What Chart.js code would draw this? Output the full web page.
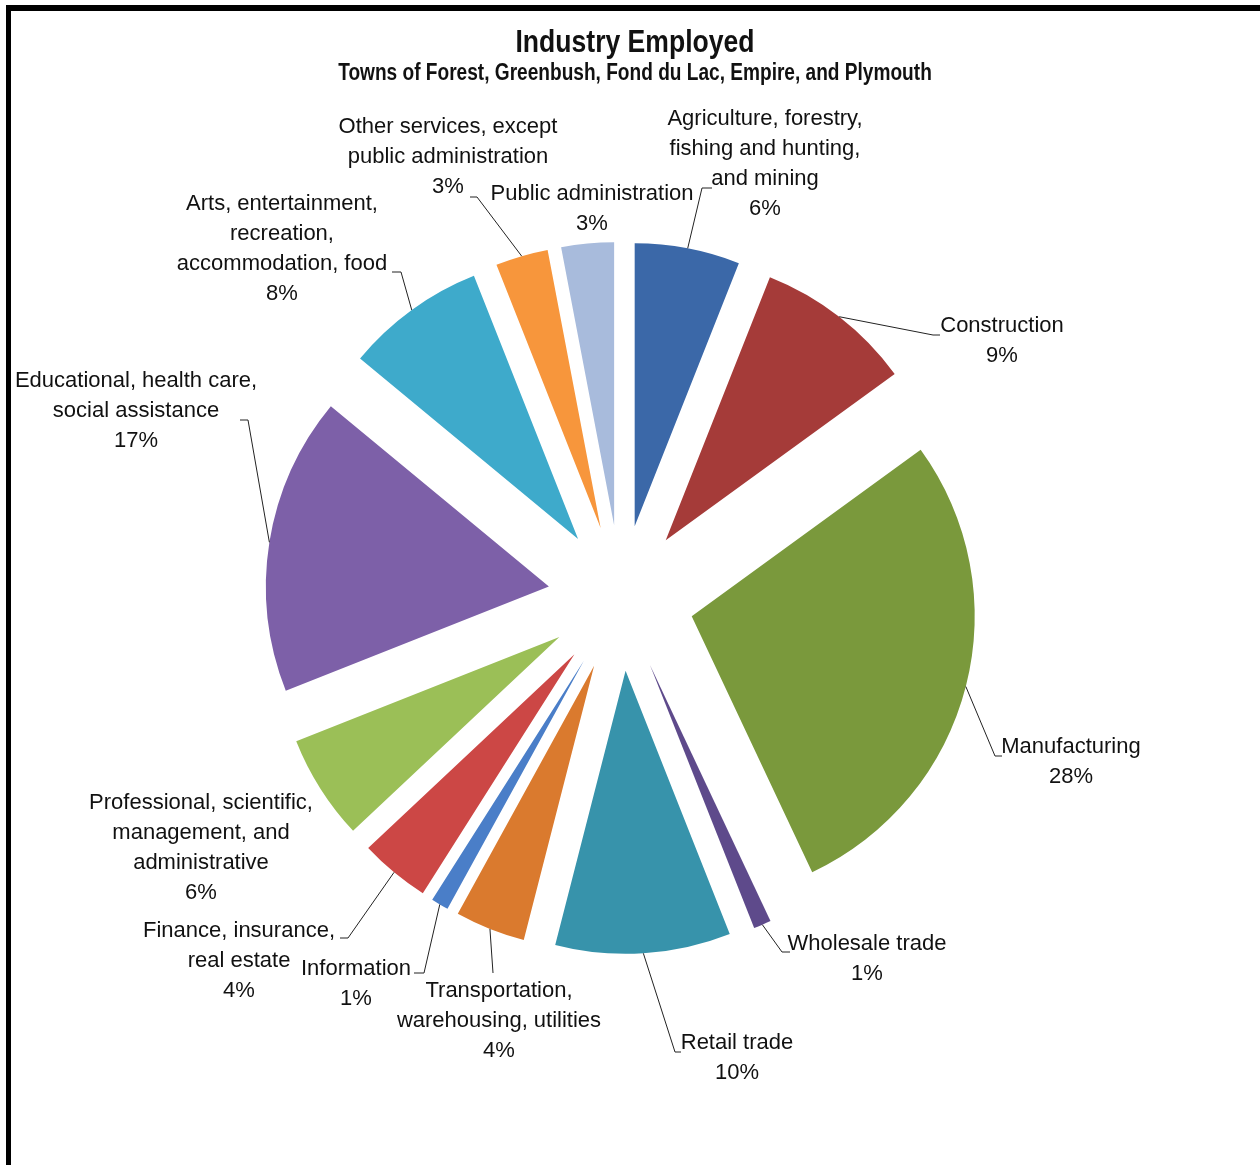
<!DOCTYPE html>
<html>
<head>
<meta charset="utf-8">
<script src="https://cdn.jsdelivr.net/npm/chart.js@4"></script>
<style>
  html, body { margin: 0; padding: 0; background: #fff; }
  #wrap { position: relative; width: 1260px; height: 1165px; overflow: hidden; }
  #frame {
    position: absolute; left: 6px; top: 5px; width: 1400px; height: 1300px;
    border-left: 5px solid #000; border-top: 6px solid #000;
  }
  #chart { position: absolute; left: 0; top: 0; }
</style>
</head>
<body>
<div id="wrap">
  <div id="frame"></div>
  <canvas id="chart" width="1260" height="1165"></canvas>
</div>
<script>
const categories = [
  ['Agriculture, forestry,', 'fishing and hunting,', 'and mining'],
  ['Construction'],
  ['Manufacturing'],
  ['Wholesale trade'],
  ['Retail trade'],
  ['Transportation,', 'warehousing, utilities'],
  ['Information'],
  ['Finance, insurance,', 'real estate'],
  ['Professional, scientific,', 'management, and', 'administrative'],
  ['Educational, health care,', 'social assistance'],
  ['Arts, entertainment,', 'recreation,', 'accommodation, food'],
  ['Other services, except', 'public administration'],
  ['Public administration'],
];

// percent of employed residents
const shares = [6, 9, 28, 1, 10, 4, 1, 4, 6, 17, 8, 3, 3];

const colors = [
  '#3b68a8', '#a53b39', '#7a993c', '#5e4a8b', '#3793ab', '#da7a2e', '#4a7ec8',
  '#cc4745', '#9bbf57', '#7d60a8', '#3eaacb', '#f7963c', '#a8bbdc',
];

// label placement: first line centre, leader elbow and end
const labelLayout = [
  { x: 765, y: 118, elbow: [702, 188], end: [712, 188] },
  { x: 1002, y: 325, elbow: [933, 335], end: [940, 335] },
  { x: 1071, y: 746, elbow: [995, 756], end: [1002, 756] },
  { x: 867, y: 943, elbow: [782, 952], end: [790, 952] },
  { x: 737, y: 1042, elbow: [675, 1052], end: [681, 1052] },
  { x: 499, y: 990, elbow: [493, 973], end: [493, 973] },
  { x: 356, y: 968, elbow: [424, 973], end: [414, 973] },
  { x: 239, y: 930, elbow: [348, 938], end: [340, 938] },
  { x: 201, y: 802 },
  { x: 136, y: 380, elbow: [248, 420], end: [240, 420] },
  { x: 282, y: 203, elbow: [401, 272], end: [392, 272] },
  { x: 448, y: 126, elbow: [477, 197], end: [470, 197] },
  { x: 592, y: 193 },
];

const FONT = '"Liberation Sans", Arial, sans-serif';
const EXPLODE = 73;
const LINE_H = 30;

// pull every slice outward along its middle angle
const explode = {
  id: 'explode',
  beforeDatasetDraw(chart, args) {
    const ctx = chart.ctx;
    args.meta.data.forEach((arc) => {
      const mid = (arc.startAngle + arc.endAngle) / 2;
      ctx.save();
      ctx.translate(Math.cos(mid) * EXPLODE, Math.sin(mid) * EXPLODE);
      arc.draw(ctx, chart.chartArea);
      ctx.restore();
    });
    return false;
  },
};

// condensed bold heading text
function narrowText(ctx, text, x, y, size) {
  ctx.save();
  ctx.translate(x, y);
  ctx.scale(0.83, 1);
  ctx.font = 'bold ' + size + 'px ' + FONT;
  ctx.fillText(text, 0, 0);
  ctx.restore();
}

// titles, category labels and leader lines
const outerLabels = {
  id: 'outerLabels',
  afterDraw(chart) {
    const ctx = chart.ctx;
    ctx.save();
    ctx.fillStyle = '#111';
    ctx.textAlign = 'center';
    ctx.textBaseline = 'middle';
    narrowText(ctx, 'Industry Employed', 635, 43, 32);
    narrowText(ctx, 'Towns of Forest, Greenbush, Fond du Lac, Empire, and Plymouth', 635, 74, 23);

    const arcs = chart.getDatasetMeta(0).data;
    ctx.font = '22px ' + FONT;
    arcs.forEach((arc, i) => {
      const lay = labelLayout[i];
      const lines = categories[i].concat([shares[i] + '%']);
      lines.forEach((line, k) => {
        ctx.fillText(line, lay.x, lay.y + 1 + k * LINE_H);
      });
      if (!lay.elbow) return;
      const mid = (arc.startAngle + arc.endAngle) / 2;
      const r = arc.outerRadius + EXPLODE;
      ctx.beginPath();
      ctx.moveTo(arc.x + Math.cos(mid) * r, arc.y + Math.sin(mid) * r);
      ctx.lineTo(lay.elbow[0], lay.elbow[1]);
      ctx.lineTo(lay.end[0], lay.end[1]);
      ctx.strokeStyle = '#222';
      ctx.lineWidth = 1;
      ctx.stroke();
    });
    ctx.restore();
  },
};

new Chart(document.getElementById('chart'), {
  type: 'pie',
  data: {
    labels: categories,
    datasets: [
      {
        data: shares,
        backgroundColor: colors,
        borderWidth: 0,
        radius: 283,
      },
    ],
  },
  options: {
    responsive: false,
    animation: false,
    layout: { padding: { left: 0, right: 18, top: 31, bottom: 0 } },
    plugins: {
      legend: { display: false },
      tooltip: { enabled: false },
    },
  },
  plugins: [explode, outerLabels],
});
</script>
</body>
</html>
